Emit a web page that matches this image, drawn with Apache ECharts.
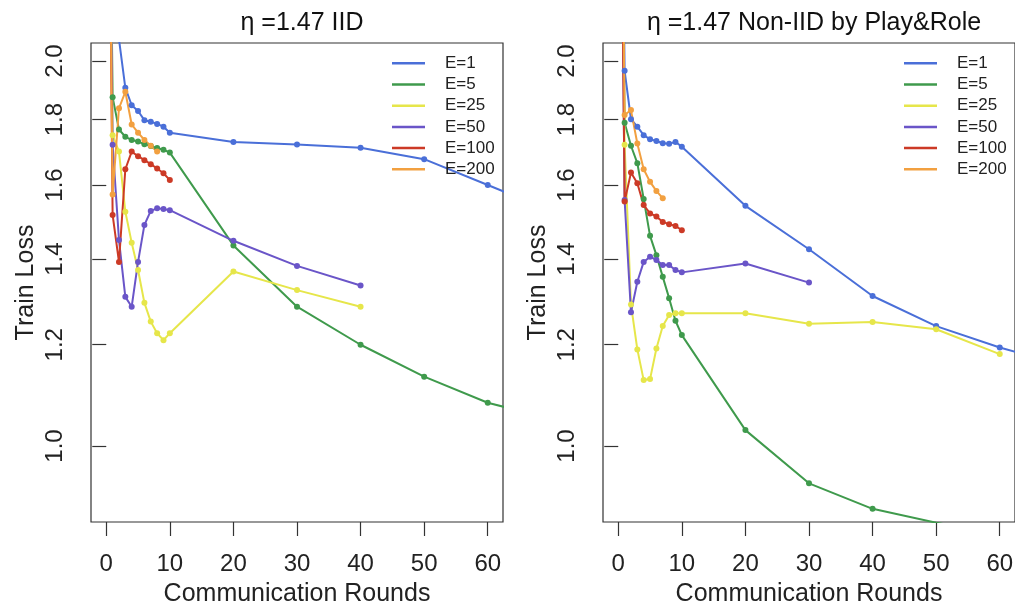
<!DOCTYPE html>
<html><head><meta charset="utf-8">
<script src="https://cdn.jsdelivr.net/npm/echarts@6/dist/echarts.min.js"></script>
<style>html,body{margin:0;padding:0;background:#fff}#c{width:1015px;height:604px}</style>
</head><body><div id="c"></div><script>
// communication rounds shared by every series (paired by index)
const rounds = [0, 1, 2, 3, 4, 5, 6, 7, 8, 9, 10, 20, 30, 40, 50, 60, 70];
const seriesNames = ['E=1', 'E=5', 'E=25', 'E=50', 'E=100', 'E=200'];
const panelTitles = ['\u03b7 =1.47 IID', '\u03b7 =1.47 Non-IID by Play&Role'];
const yTicks = [1.0, 1.2, 1.4, 1.6, 1.8, 2.0];
const xTicks = [0, 10, 20, 30, 40, 50, 60];

// IID panel
const iidE1   = [5.0, 2.30, 2.08, 1.906, 1.847, 1.828, 1.798, 1.793, 1.786, 1.777, 1.758, 1.729, 1.721, 1.711, 1.676, 1.600, 1.527];
const iidE5   = [5.0, 1.874, 1.768, 1.745, 1.735, 1.730, 1.722, 1.716, 1.710, 1.705, 1.696, 1.435, 1.285, 1.200, 1.133, 1.081, 1.050];
const iidE25  = [5.0, 1.75, 1.699, 1.525, 1.442, 1.373, 1.294, 1.251, 1.225, 1.210, 1.225, 1.369, 1.324, 1.285];
const iidE50  = [5.0, 1.72, 1.449, 1.308, 1.285, 1.393, 1.489, 1.527, 1.534, 1.532, 1.529, 1.447, 1.383, 1.335];
const iidE100 = [5.0, 1.516, 1.393, 1.646, 1.699, 1.685, 1.673, 1.661, 1.648, 1.634, 1.614];
const iidE200 = [5.0, 1.573, 1.837, 1.892, 1.784, 1.758, 1.735, 1.717, 1.699];

// Non-IID panel
const nonE1   = [5.0, 1.965, 1.801, 1.777, 1.750, 1.737, 1.732, 1.725, 1.723, 1.729, 1.714, 1.541, 1.425, 1.310, 1.241, 1.194, 1.157];
const nonE5   = [5.0, 1.79, 1.717, 1.664, 1.56, 1.460, 1.410, 1.356, 1.305, 1.253, 1.221, 1.029, 0.935, 0.893, 0.871, 0.852];
const nonE25  = [5.0, 1.72, 1.29, 1.190, 1.126, 1.128, 1.192, 1.241, 1.266, 1.270, 1.270, 1.270, 1.246, 1.250, 1.234, 1.180];
const nonE50  = [5.0, 1.557, 1.272, 1.344, 1.393, 1.406, 1.398, 1.385, 1.385, 1.373, 1.367, 1.389, 1.342];
const nonE100 = [5.0, 1.553, 1.636, 1.605, 1.543, 1.520, 1.512, 1.497, 1.491, 1.486, 1.475];
const nonE200 = [5.0, 1.815, 1.831, 1.724, 1.646, 1.609, 1.583, 1.562];

const panels = [
  [iidE1, iidE5, iidE25, iidE50, iidE100, iidE200],
  [nonE1, nonE5, nonE25, nonE50, nonE100, nonE200]
];
const colors = ['#4a6fd8', '#3f9a4c', '#e6e64a', '#6a55c8', '#cc3a26', '#f2a040'];
const FONT = 'Liberation Sans, Arial, Helvetica, sans-serif';
const gridLefts = [91, 603];

const option = {
  animation: false,
  backgroundColor: '#ffffff',
  color: colors,
  title: panelTitles.map((t, p) => ({
    text: t, left: gridLefts[p] + 206, top: 6, textAlign: 'center',
    textStyle: { fontSize: 25, fontWeight: 'normal', color: '#111', fontFamily: FONT }
  })),
  legend: [0, 1].map(p => ({
    orient: 'vertical', left: gridLefts[p] + 301, top: 54.8, padding: 0,
    itemGap: 4.2, itemWidth: 33, itemHeight: 2.5, icon: 'rect', selectedMode: false,
    data: seriesNames,
    textStyle: { fontSize: 17, lineHeight: 17, color: '#222', fontFamily: FONT, padding: [0, 0, 0, 15] }
  })),
  grid: [0, 1].map(p => ({
    left: gridLefts[p], top: 43, width: 412, height: 479,
    containLabel: false, outerBoundsMode: 'none',
    show: true, borderColor: '#333', borderWidth: 1.2, backgroundColor: 'transparent'
  })),
  xAxis: [0, 1].map(p => ({
    gridIndex: p, type: 'value', min: -2.4, max: 62.4,
    axisLine: { show: false }, splitLine: { show: false },
    axisTick: { show: true, length: 14, customValues: xTicks, lineStyle: { color: '#333', width: 1.2 } },
    axisLabel: { customValues: xTicks, margin: 30, fontSize: 24, color: '#222', fontFamily: FONT },
    name: 'Communication Rounds', nameLocation: 'middle', nameGap: 60,
    nameTextStyle: { fontSize: 25, color: '#222', fontFamily: FONT }
  })),
  yAxis: [0, 1].map(p => ({
    gridIndex: p, type: 'log', logBase: 10, min: 0.8721, max: 2.066,
    axisLine: { show: false }, splitLine: { show: false },
    axisTick: { show: true, length: 14, customValues: yTicks, lineStyle: { color: '#333', width: 1.2 } },
    axisLabel: { customValues: yTicks, rotate: 90, margin: 24, fontSize: 24, color: '#222', fontFamily: FONT,
      formatter: v => Number(v).toFixed(1) },
    name: 'Train Loss', nameLocation: 'middle', nameGap: 52,
    nameTextStyle: { fontSize: 25, color: '#222', fontFamily: FONT }
  })),
  series: []
};

panels.forEach((vals, p) => {
  vals.forEach((arr, i) => {
    option.series.push({
      name: seriesNames[i], type: 'line', xAxisIndex: p, yAxisIndex: p,
      data: arr.map((v, k) => [rounds[k], v]),
      symbol: 'circle', symbolSize: 6, showSymbol: true, clip: true, silent: true,
      lineStyle: { color: colors[i], width: 2 },
      itemStyle: { color: colors[i] },
      emphasis: { disabled: true }
    });
  });
});

const chart = echarts.init(document.getElementById('c'), null, { renderer: 'canvas' });
chart.setOption(option);
</script></body></html>
